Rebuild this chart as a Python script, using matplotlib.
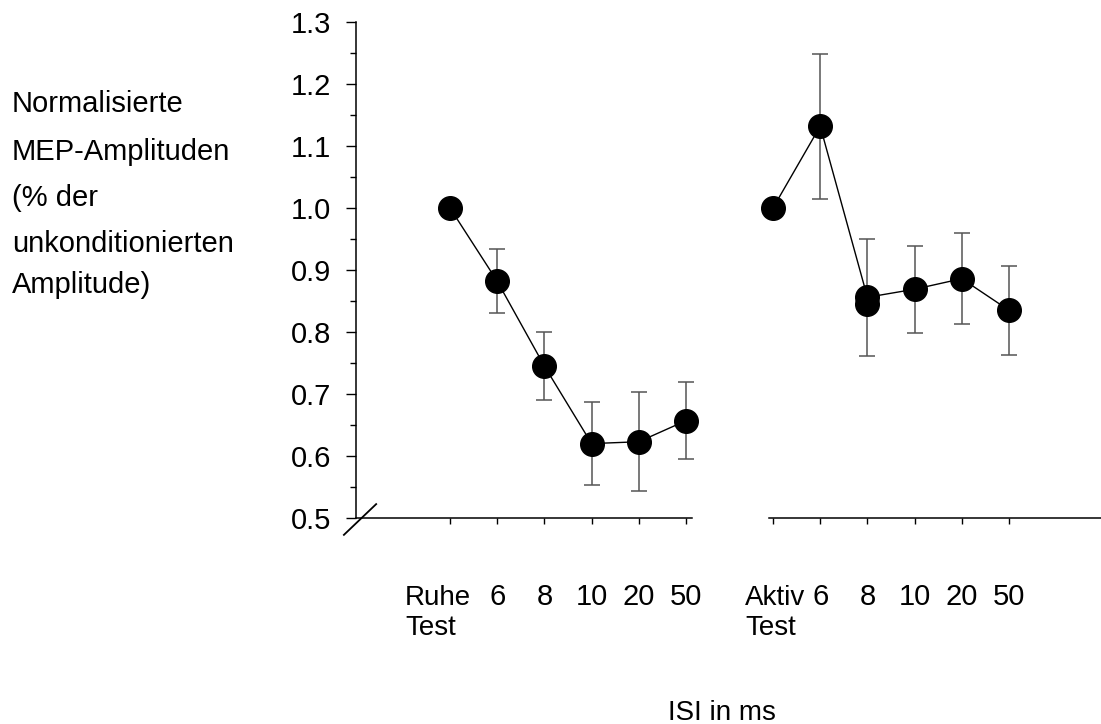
import numpy as np
import matplotlib.pyplot as plt
from matplotlib import transforms

plt.rcParams['font.family'] = ['Liberation Sans', 'DejaVu Sans']

# daten: normalisierte MEP-Amplituden, Ruhe und Aktiv
isi_labels = ['6', '8', '10', '20', '50']
ruhe_mean = [1.0, 0.882, 0.745, 0.620, 0.623, 0.657]
ruhe_err = [0.0, 0.052, 0.055, 0.067, 0.080, 0.062]
aktiv_mean = [1.0, 1.132, 0.856, 0.869, 0.886, 0.835]
aktiv_err = [0.0, 0.117, 0.094, 0.070, 0.073, 0.072]
aktiv_extra = [0.845]  # zweiter punkt bei 8 ms

W, H = 1101, 724
fig = plt.figure(figsize=(W / 100, H / 100), dpi=100)

# achsen in pixeln
y_top, y_bot = 22, 518
sp = 47.2
axL = fig.add_axes([356 / W, 1 - y_bot / H, (692 - 356) / W, (y_bot - y_top) / H])
axR = fig.add_axes([769 / W, 1 - y_bot / H, (W - 769) / W, (y_bot - y_top) / H])

axL.set_xlim((356 - 450) / sp, (692 - 450) / sp)
axR.set_xlim((769 - 773) / sp, (W - 773) / sp)

x = np.arange(6)
for ax, m, e in [(axL, ruhe_mean, ruhe_err), (axR, aktiv_mean, aktiv_err)]:
    ax.set_ylim(0.5, 1.3)
    eb = ax.errorbar(x[1:], m[1:], yerr=e[1:], fmt='none', ecolor='#555555',
                     elinewidth=1.1, capsize=6, capthick=1.1, zorder=2)
    for art in eb.lines[1] + eb.lines[2]:
        art.set_clip_on(False)
    ax.plot(x, m, color='black', lw=1.0, zorder=3, clip_on=False)
    ax.plot(x, m, 'o', color='black', ms=17, zorder=4, clip_on=False)
    for s in ['top', 'right']:
        ax.spines[s].set_visible(False)
    ax.spines['bottom'].set_linewidth(1.1)
    ax.set_xticks(x)
    ax.set_xticklabels([])
    ax.tick_params(axis='x', direction='out', length=4, width=1)

axR.plot([2], aktiv_extra, 'o', color='black', ms=17, zorder=4, clip_on=False)

# y-achse links
axL.spines['left'].set_linewidth(1.1)
axL.set_yticks(np.arange(0.5, 1.31, 0.1))
axL.set_yticklabels(['%.1f' % v for v in np.arange(0.5, 1.31, 0.1)], fontsize=21)
axL.set_yticks(np.arange(0.55, 1.3, 0.1), minor=True)
axL.tick_params(axis='y', which='major', direction='out', length=7, width=1, pad=11)
axL.tick_params(axis='y', which='minor', direction='out', length=4, width=1)

axR.spines['left'].set_visible(False)
axR.set_yticks([])

# achsenbruch
axL.plot([-0.036, 0.06], [-0.034, 0.028], color='black', lw=1.3,
         transform=axL.transAxes, clip_on=False)

# x-beschriftungen
for ax, first, dx in [(axL, 'Ruhe', (405 - 450) / sp), (axR, 'Aktiv', (745 - 773) / sp)]:
    tr = transforms.blended_transform_factory(ax.transData, fig.transFigure)
    for i, lab in enumerate(isi_labels):
        ax.text(x[i + 1], 1 - 605 / H, lab, transform=tr, ha='center',
                va='baseline', fontsize=21)
    ax.text(dx, 1 - 605 / H, first, transform=tr, ha='left', va='baseline', fontsize=20)
    ax.text(dx, 1 - 635 / H, 'Test', transform=tr, ha='left', va='baseline', fontsize=20)

# y-beschriftung
ylab = ['Normalisierte', 'MEP-Amplituden', '(% der', 'unkonditionierten', 'Amplitude)']
for lab, yb in zip(ylab, [112, 160, 206, 252, 293]):
    fig.text(12 / W, 1 - yb / H, lab, ha='left', va='baseline', fontsize=21)

fig.text(722 / W, 1 - 720 / H, 'ISI in ms', ha='center', va='baseline', fontsize=20)

fig.savefig('out.png', dpi=100)
